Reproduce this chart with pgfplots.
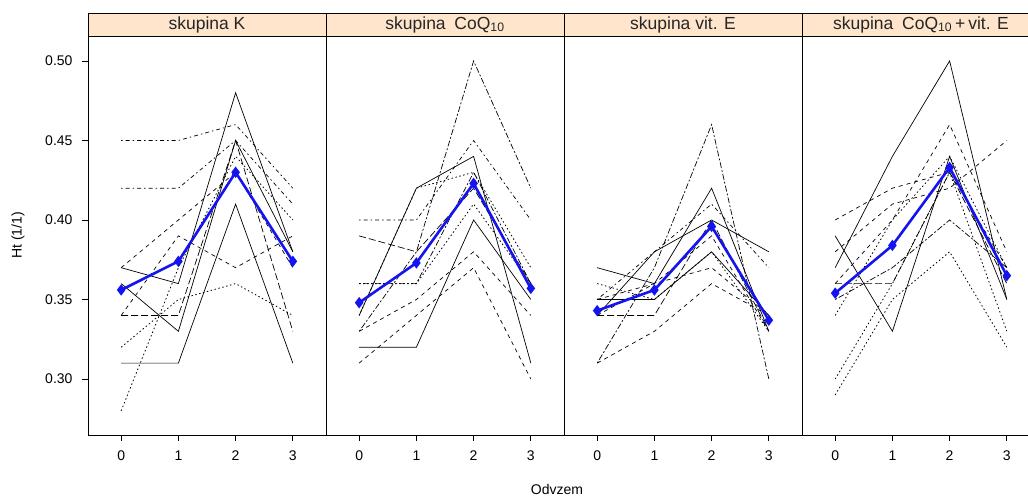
\documentclass[border=0pt]{standalone}
\usepackage{pgfplots}
\pgfplotsset{compat=1.18}
\usepackage{fontspec}
\setmainfont{Liberation Sans}
\definecolor{strip}{HTML}{FFE5CC}
\definecolor{meanblue}{RGB}{20,20,240}

\tikzset{
  lty1/.style={black, line width=0.7pt, solid},
  lty2/.style={black, line width=0.7pt, dash pattern=on 4pt off 4pt},
  lty3/.style={black, line width=0.8pt, dash pattern=on 1.5pt off 2.5pt},
  lty4/.style={black, line width=0.7pt, dash pattern=on 1.5pt off 3pt on 4pt off 3pt},
  lty5/.style={black, line width=0.7pt, dash pattern=on 7pt off 3pt},
  lty6/.style={black, line width=0.7pt, dash pattern=on 2pt off 2pt on 6pt off 2pt},
  meanline/.style={meanblue, line width=2.6pt, mark=diamond*, mark size=3.6pt, mark options={solid, fill=meanblue}},
}

\pgfplotsset{
  panel/.style={
    scale only axis, width=238pt, height=399pt,
    xmin=-0.58, xmax=3.58, ymin=0.2648, ymax=0.5157,
    xtick={0,1,2,3}, tick align=outside, tick pos=left,
    major tick length=6pt,
    axis line style={line width=0.8pt}, tick style={black, line width=0.8pt},
    every tick label/.append style={font=\fontsize{14}{16}\selectfont},
    xticklabel style={yshift=-6pt},
    /pgf/number format/assume math mode=true,
    clip=false, anchor=south west,
  },
  strip/.style={
    execute at end axis={
      \fill[strip] (rel axis cs:0,1) rectangle ([yshift=23pt]rel axis cs:1,1);
      \draw[line width=0.8pt] (rel axis cs:0,1) rectangle ([yshift=23pt]rel axis cs:1,1);
      \node[font=\fontsize{17.5}{19}\selectfont, text=black!85] at ([yshift=11.5pt]rel axis cs:0.5,1) {#1};
    }
  },
}

\begin{document}
\begin{tikzpicture}
\useasboundingbox (0,0) rectangle (1028pt,500pt);

% skupina K
\begin{axis}[panel, at={(88pt,65pt)},
  ytick={0.30,0.35,0.40,0.45,0.50},
  yticklabel style={/pgf/number format/fixed, /pgf/number format/fixed zerofill, /pgf/number format/precision=2, xshift=-6pt},
  ylabel={Ht (1/1)}, ylabel style={font=\fontsize{14}{16}\selectfont, at={(-70pt,0.5)}, anchor=center},
  strip={skupina K}]
\addplot[lty4] coordinates {(0,0.45)(1,0.45)(2,0.46)(3,0.42)};
\addplot[lty4] coordinates {(0,0.42)(1,0.42)(2,0.45)(3,0.41)};
\addplot[lty1] coordinates {(0,0.37)(1,0.36)(2,0.48)(3,0.38)};
\addplot[lty1] coordinates {(0,0.31)(1,0.31)(2,0.41)(3,0.31)};
\addplot[lty3] coordinates {(0,0.28)(1,0.37)(2,0.44)(3,0.40)};
\addplot[lty5] coordinates {(0,0.34)(1,0.34)(2,0.45)(3,0.33)};
\addplot[lty1] coordinates {(0,0.36)(1,0.33)(2,0.45)(3,0.38)};
\addplot[lty3] coordinates {(0,0.32)(1,0.35)(2,0.36)(3,0.34)};
\addplot[lty2] coordinates {(0,0.34)(1,0.39)(2,0.37)(3,0.39)};
\addplot[lty2] coordinates {(0,0.37)(1,0.40)(2,0.43)(3,0.37)};
\addplot[meanline] coordinates {(0,0.356)(1,0.374)(2,0.430)(3,0.374)};
\end{axis}

% skupina CoQ10
\begin{axis}[panel, at={(326pt,65pt)}, ytick=\empty,
  strip={skupina\enspace CoQ\textsubscript{10}}]
\addplot[lty6] coordinates {(0,0.33)(1,0.38)(2,0.50)(3,0.42)};
\addplot[lty4] coordinates {(0,0.40)(1,0.40)(2,0.45)(3,0.40)};
\addplot[lty1] coordinates {(0,0.34)(1,0.42)(2,0.44)(3,0.31)};
\addplot[lty1] coordinates {(0,0.32)(1,0.32)(2,0.40)(3,0.35)};
\addplot[lty5] coordinates {(0,0.39)(1,0.38)(2,0.42)(3,0.36)};
\addplot[lty2] coordinates {(0,0.31)(1,0.34)(2,0.37)(3,0.30)};
\addplot[lty2] coordinates {(0,0.33)(1,0.35)(2,0.38)(3,0.34)};
\addplot[lty3] coordinates {(0,0.34)(1,0.42)(2,0.43)(3,0.37)};
\addplot[lty3] coordinates {(0,0.36)(1,0.36)(2,0.41)(3,0.36)};
\addplot[lty6] coordinates {(0,0.36)(1,0.36)(2,0.43)(3,0.36)};
\addplot[meanline] coordinates {(0,0.348)(1,0.373)(2,0.423)(3,0.357)};
\end{axis}

% skupina vit. E
\begin{axis}[panel, at={(564pt,65pt)}, ytick=\empty,
  strip={skupina vit. E}]
\addplot[lty6] coordinates {(0,0.31)(1,0.37)(2,0.46)(3,0.30)};
\addplot[lty1] coordinates {(0,0.37)(1,0.36)(2,0.42)(3,0.33)};
\addplot[lty1] coordinates {(0,0.35)(1,0.35)(2,0.38)(3,0.34)};
\addplot[lty5] coordinates {(0,0.34)(1,0.34)(2,0.40)(3,0.33)};
\addplot[lty2] coordinates {(0,0.31)(1,0.33)(2,0.36)(3,0.34)};
\addplot[lty1] coordinates {(0,0.34)(1,0.38)(2,0.40)(3,0.38)};
\addplot[lty2] coordinates {(0,0.34)(1,0.36)(2,0.39)(3,0.33)};
\addplot[lty4] coordinates {(0,0.35)(1,0.38)(2,0.41)(3,0.37)};
\addplot[lty3] coordinates {(0,0.36)(1,0.35)(2,0.38)(3,0.33)};
\addplot[lty2] coordinates {(0,0.35)(1,0.36)(2,0.37)(3,0.34)};
\addplot[meanline] coordinates {(0,0.343)(1,0.356)(2,0.396)(3,0.337)};
\end{axis}

% skupina CoQ10 + vit. E
\begin{axis}[panel, at={(802pt,65pt)}, ytick=\empty,
  strip={skupina\enspace CoQ\textsubscript{10}\,+\,vit. E}]
\addplot[lty1] coordinates {(0,0.37)(1,0.44)(2,0.50)(3,0.35)};
\addplot[lty2] coordinates {(0,0.38)(1,0.41)(2,0.42)(3,0.45)};
\addplot[lty2] coordinates {(0,0.36)(1,0.40)(2,0.46)(3,0.38)};
\addplot[lty1] coordinates {(0,0.39)(1,0.33)(2,0.44)(3,0.35)};
\addplot[lty5] coordinates {(0,0.36)(1,0.36)(2,0.43)(3,0.36)};
\addplot[lty3] coordinates {(0,0.30)(1,0.36)(2,0.43)(3,0.33)};
\addplot[lty3] coordinates {(0,0.29)(1,0.35)(2,0.38)(3,0.32)};
\addplot[lty2] coordinates {(0,0.40)(1,0.42)(2,0.43)(3,0.37)};
\addplot[lty3] coordinates {(0,0.34)(1,0.40)(2,0.44)(3,0.37)};
\addplot[lty6] coordinates {(0,0.35)(1,0.37)(2,0.40)(3,0.37)};
\addplot[meanline] coordinates {(0,0.354)(1,0.384)(2,0.433)(3,0.365)};
\end{axis}

\node[font=\fontsize{14}{16}\selectfont] at (557pt,11pt) {Odvzem};
\end{tikzpicture}
\end{document}
